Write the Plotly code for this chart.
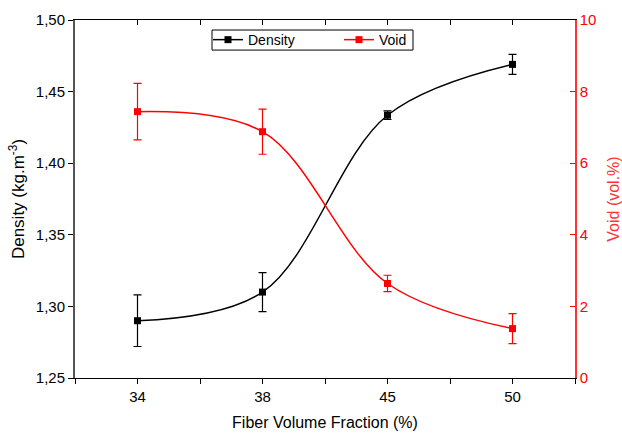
import plotly.graph_objects as go

categories = ["34", "38", "45", "50"]
density = [1.290, 1.310, 1.4335, 1.469]
density_err = [0.018, 0.0136, 0.003, 0.007]
void = [7.44, 6.88, 2.64, 1.38]
void_err = [0.79, 0.63, 0.23, 0.42]
y1_ticks = [1.25, 1.30, 1.35, 1.40, 1.45, 1.50]
y2_ticks = [0, 2, 4, 6, 8, 10]

xpos = list(range(len(categories)))
FONT = "Liberation Sans, Arial, sans-serif"

fig = go.Figure()
fig.add_trace(go.Scatter(
    x=xpos, y=density, name="Density", mode="lines+markers",
    line=dict(color="black", width=1.5, shape="spline", smoothing=1.0),
    marker=dict(symbol="square", size=7, color="black"),
    error_y=dict(type="data", array=density_err, color="black", thickness=1.2, width=4),
    yaxis="y", legend="legend",
))
fig.add_trace(go.Scatter(
    x=xpos, y=void, name="Void", mode="lines+markers",
    line=dict(color="red", width=1.5, shape="spline", smoothing=1.0),
    marker=dict(symbol="square", size=7, color="red"),
    error_y=dict(type="data", array=void_err, color="red", thickness=1.2, width=4),
    yaxis="y2", legend="legend2",
))
# invisible trace to create top axis subplot
fig.add_trace(go.Scatter(x=xpos, y=density, xaxis="x2", yaxis="y", mode="none",
                         showlegend=False, hoverinfo="skip"))

legend_common = dict(orientation="h", yanchor="middle", xanchor="left",
                     bgcolor="rgba(0,0,0,0)", borderwidth=0,
                     font=dict(size=14, family=FONT, color="black"))

fig.update_layout(
    width=622, height=434,
    margin=dict(l=75, r=47, t=20, b=56),
    paper_bgcolor="white", plot_bgcolor="white",
    separators=", ",
    font=dict(family=FONT, size=15, color="black"),
    showlegend=True,
    legend=dict(x=0.266, y=0.944, **legend_common),
    legend2=dict(x=0.528, y=0.944, **legend_common),
    shapes=[dict(type="rect", xref="paper", yref="paper",
                 x0=0.274, x1=0.676, y0=0.916, y1=0.972,
                 line=dict(color="black", width=1), fillcolor="rgba(0,0,0,0)",
                 layer="above")],
    xaxis=dict(
        range=[-0.5, 3.5], tickvals=xpos, ticktext=categories,
        showline=True, linecolor="black", linewidth=1,
        ticks="outside", ticklen=5, tickcolor="black",
        minor=dict(dtick=0.5, tick0=0, ticks="outside", ticklen=5, tickcolor="black"),
        showgrid=False, zeroline=False, automargin=False,
        title=dict(text="Fiber Volume Fraction (%)", standoff=12, font=dict(size=16)),
        tickfont=dict(size=15),
    ),
    xaxis2=dict(
        range=[-0.5, 3.5], overlaying="x", side="top", anchor="y",
        tickvals=xpos, showticklabels=False,
        showline=True, linecolor="black", linewidth=1,
        ticks="inside", ticklen=5, tickcolor="black",
        minor=dict(dtick=0.5, tick0=0, ticks="inside", ticklen=5, tickcolor="black"),
        showgrid=False, zeroline=False, automargin=False,
    ),
    yaxis=dict(
        range=[1.25, 1.50], tickvals=y1_ticks, tickformat=".2f",
        showline=True, linecolor="#555555", linewidth=2,
        ticks="outside", ticklen=5, tickcolor="black",
        showgrid=False, zeroline=False, automargin=False,
        title=dict(text="Density (kg.m<sup>-3</sup>)", standoff=7, font=dict(size=17)),
        tickfont=dict(size=15),
    ),
    yaxis2=dict(
        range=[0, 10], tickvals=y2_ticks, overlaying="y", side="right", anchor="x",
        showline=True, linecolor="#ff3333", linewidth=1.5,
        ticks="inside", ticklen=5, tickcolor="red",
        showgrid=False, zeroline=False, automargin=False,
        tickfont=dict(size=15, color="red"),
        title=dict(text="Void (vol.%)", standoff=13, font=dict(size=16, color="#ff3333")),
    ),
)

fig.write_html("out.html", config={"displayModeBar": False},
               post_script="document.body.style.margin='0';document.body.style.overflow='hidden';")
